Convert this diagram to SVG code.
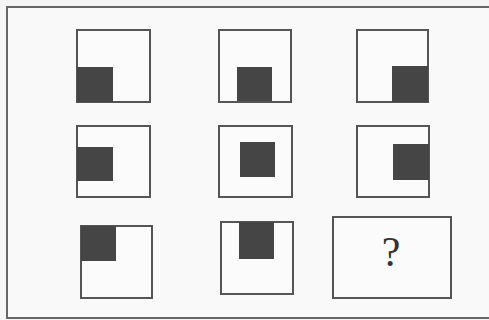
<svg xmlns="http://www.w3.org/2000/svg" width="489" height="320" viewBox="0 0 489 320">
<style>
.box{fill:#fbfbfb;stroke:#555;stroke-width:2}
.dark{fill:#454545}
.q{font-family:"Liberation Serif",serif;font-size:42px;fill:#333;text-anchor:middle}
</style>
<rect x="0" y="0" width="489" height="320" fill="#f5f5f5"/>
<rect x="7" y="7" width="490" height="311" fill="#f9f9f9" stroke="#666" stroke-width="2"/>
<g id="r1c1"><rect class="box" x="77" y="30" width="73" height="72"/><rect class="dark" x="77" y="67" width="36" height="35"/></g>
<g id="r1c2"><rect class="box" x="219" y="30" width="72" height="72"/><rect class="dark" x="237" y="67" width="35" height="34"/></g>
<g id="r1c3"><rect class="box" x="357" y="30" width="71" height="72"/><rect class="dark" x="392" y="66" width="36" height="36"/></g>
<g id="r2c1"><rect class="box" x="77" y="126" width="73" height="71"/><rect class="dark" x="77" y="147" width="36" height="34"/></g>
<g id="r2c2"><rect class="box" x="219" y="126" width="73" height="71"/><rect class="dark" x="240" y="142" width="35" height="35"/></g>
<g id="r2c3"><rect class="box" x="357" y="126" width="72" height="71"/><rect class="dark" x="393" y="144" width="36" height="36"/></g>
<g id="r3c1"><rect class="box" x="81" y="226" width="71" height="72"/><rect class="dark" x="81" y="226" width="35" height="35"/></g>
<g id="r3c2"><rect class="box" x="221" y="222" width="72" height="72"/><rect class="dark" x="239" y="222" width="35" height="37"/></g>
<g id="answer"><rect class="box" x="333" y="217" width="118" height="81"/><text class="q" x="391" y="266">?</text></g>
</svg>
